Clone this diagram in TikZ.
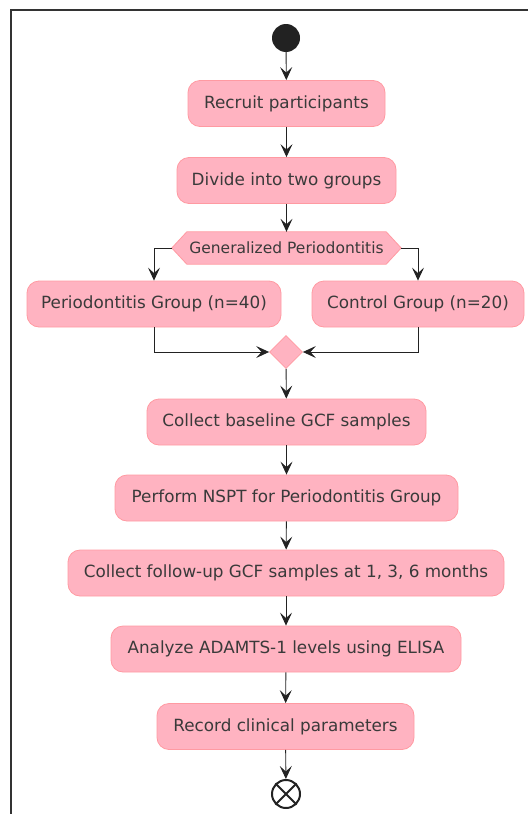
\documentclass[tikz,border=0pt]{standalone}
\usepackage{fontspec}
\setmainfont{DejaVu Sans}
\usetikzlibrary{arrows.meta,shapes.geometric,calc}
\definecolor{boxfill}{HTML}{FFB3C1}
\definecolor{boxline}{HTML}{FF9AA2}
\definecolor{txt}{HTML}{3A3A3A}
\definecolor{ink}{HTML}{222222}
\tikzset{
  act/.style={rectangle, rounded corners=12pt, fill=boxfill, draw=boxline, line width=0.8pt,
    minimum height=46pt, inner sep=0pt, text=txt, font=\fontsize{16.8pt}{19pt}\selectfont},
  flow/.style={draw=ink, line width=0.9pt, -{Stealth[length=13pt,width=12pt,inset=5.5pt]}},
}
\begin{document}
\begin{tikzpicture}[x=1pt,y=-1pt]
\useasboundingbox (0,0) rectangle (528,814);
\draw[color=black!80, line width=1.6pt] (11,814) -- (11,10) -- (528,10);

\node[circle, fill=ink, minimum size=28pt, inner sep=0pt] (start) at (286,38) {};
\node[act, minimum width=197pt] (recruit) at (286.5,103.5) {Recruit participants};
\node[act, minimum width=219pt] (divide) at (286.5,180.5) {Divide into two groups};
\node[minimum width=229pt, minimum height=32pt, inner sep=0pt] (gp) at (286.5,248) {};
\fill[boxfill, draw=boxline, line width=0.8pt]
  (gp.west) -- ($(gp.north west)+(15,0)$) -- ($(gp.north east)+(-15,0)$) -- (gp.east)
  -- ($(gp.south east)+(-15,0)$) -- ($(gp.south west)+(15,0)$) -- cycle;
\node[text=txt, font=\fontsize{15.5pt}{18pt}\selectfont] at (gp.center) {Generalized Periodontitis};
\node[act, minimum width=254pt] (pg) at (154,304) {Periodontitis Group (n=40)};
\node[act, minimum width=212pt] (cg) at (418,304) {Control Group (n=20)};
\node[diamond, fill=boxfill, draw=boxline, line width=0.8pt, minimum width=33pt, minimum height=33pt, inner sep=0pt] (merge) at (286,352) {};
\node[act, minimum width=279pt] (base) at (286.5,422) {Collect baseline GCF samples};
\node[act, minimum width=343pt] (nspt) at (286.5,498) {Perform NSPT for Periodontitis Group};
\node[act, minimum width=436pt] (follow) at (286,573) {Collect follow-up GCF samples at 1, 3, 6 months};
\node[act, minimum width=350pt] (elisa) at (286,649) {Analyze ADAMTS-1 levels using ELISA};
\node[act, minimum width=257pt] (record) at (285.5,726.5) {Record clinical parameters};
\node[circle, draw=ink, line width=2pt, fill=white, minimum size=28pt, inner sep=0pt] (stop) at (286,794) {};
\draw[ink, line width=2pt] (stop.north east) -- (stop.south west) (stop.north west) -- (stop.south east);

\draw[flow] (start) -- (recruit);
\draw[flow] (recruit) -- (divide);
\draw[flow] (divide) -- (gp.north);
\draw[flow] (gp.west) -| (pg.north);
\draw[flow] (gp.east) -| (cg.north);
\draw[flow] (pg.south) |- (merge.west);
\draw[flow] (cg.south) |- (merge.east);
\draw[flow] (merge) -- (base);
\draw[flow] (base) -- (nspt);
\draw[flow] (nspt) -- (follow);
\draw[flow] (follow) -- (elisa);
\draw[flow] (elisa) -- (record);
\draw[flow] (record) -- (stop);
\end{tikzpicture}
\end{document}
